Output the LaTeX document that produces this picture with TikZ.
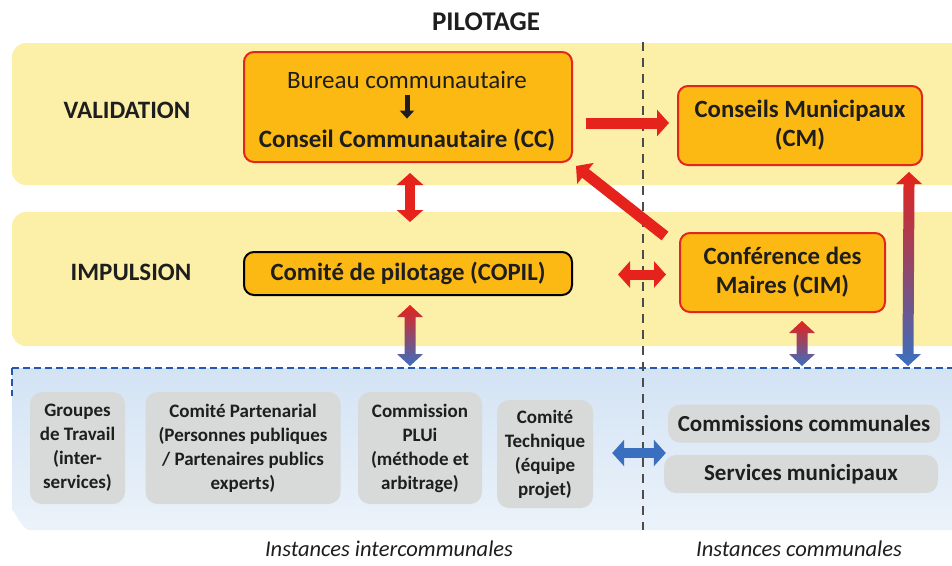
\documentclass[tikz,border=0pt]{standalone}
\usepackage{fontspec}
\setmainfont{Carlito}
\usetikzlibrary{arrows.meta,calc}
\definecolor{band}{HTML}{FCEFA8}
\definecolor{orng}{HTML}{FDB913}
\definecolor{rbord}{HTML}{E0261E}
\definecolor{ared}{HTML}{E5221B}
\definecolor{ablue}{HTML}{3A6FC0}
\definecolor{amid}{HTML}{8A3C8E}
\definecolor{bluebg}{HTML}{D3E3F4}
\definecolor{greybox}{HTML}{D7DAD9}
\definecolor{dashblue}{HTML}{2458B0}
\definecolor{txt}{HTML}{1E1E1E}
\newcommand\vgrad[2]{%
  \shade[top color=ared, middle color=amid, bottom color=ablue]
  (#1) -- ($(#1)+(13,12)$) -- ($(#1)+(5.5,12)$) -- ($(#2)+(5.5,-12)$) -- ($(#2)+(13,-12)$) -- (#2)
  -- ($(#2)+(-13,-12)$) -- ($(#2)+(-5.5,-12)$) -- ($(#1)+(-5.5,12)$) -- ($(#1)+(-13,12)$) -- cycle;}
\tikzset{
  orbox/.style={draw=rbord, line width=2pt, fill=orng, rounded corners=10pt, align=center,
     text=txt, font=\fontsize{24.8}{29}\selectfont\bfseries, inner sep=0pt},
  greyb/.style={fill=greybox, rounded corners=12pt, align=center, text=txt,
     font=\fontsize{19}{24}\selectfont\bfseries, inner sep=0pt},
  redarr/.style={draw=ared, line width=11pt, -{Triangle[width=26pt,length=12pt]}},
  reddbl/.style={draw=ared, line width=10pt, {Triangle[width=26pt,length=12pt]}-{Triangle[width=26pt,length=12pt]}},
  bluedbl/.style={draw=ablue, line width=10pt, {Triangle[width=26pt,length=12pt]}-{Triangle[width=26pt,length=12pt]}},
  lab/.style={text=txt, font=\fontsize{25}{29}\selectfont\bfseries, inner sep=0pt},
  itl/.style={text=txt, font=\fontsize{22.5}{26}\selectfont\itshape, inner sep=0pt},
}
\begin{document}
\begin{tikzpicture}[x=1pt,y=-1pt]
\useasboundingbox (0,0) rectangle (952,565);
\fill[white] (0,0) rectangle (952,565);
% bands
\fill[band, rounded corners=14pt] (12,43) rectangle (966,185);
\fill[band, rounded corners=14pt] (12,212) rectangle (966,346);
% blue area
\shade[top color=bluebg, bottom color=bluebg!45!white] (12,368) -- (960,368) -- (960,530) -- (30,530) to[out=180,in=90] (12,512) -- cycle;
\draw[dashblue, line width=2pt, dash pattern=on 7pt off 4pt] (12,368) -- (952,368);
\draw[dashblue, line width=2pt, dash pattern=on 7pt off 4pt] (12,368) -- (12,396);
% vertical dashed separator
\draw[black!70, line width=1.6pt, dash pattern=on 9pt off 7pt] (643,42) -- (643,530);

% titles
\node[lab, font=\fontsize{27}{31}\selectfont\bfseries] (pil) at (486,22) {PILOTAGE};
\node[lab] (val) at (127,110) {VALIDATION};
\node[lab] (imp) at (131,272) {IMPULSION};
\node[itl] (ii) at (389,549) {Instances intercommunales};
\node[itl] (ic) at (799,549) {Instances communales};

% orange boxes
\node[orbox, minimum width=328pt, minimum height=110pt] (CC) at (408,107) {};
\node[text=txt, font=\fontsize{25}{29}\selectfont, inner sep=0pt] (bur) at (407,80) {Bureau communautaire};
\node[text=txt, font=\fontsize{25}{29}\selectfont\bfseries, inner sep=0pt] (cons) at (407,140) {Conseil Communautaire (CC)};
\draw[txt, line width=5pt, -{Triangle[width=14pt,length=8pt]}] ($(bur.south)+(0,6)$) -- ($(cons.north)+(0,-10)$);
\node[orbox, minimum width=244pt, minimum height=79pt] (CM) at (800,125.5) {Conseils Municipaux\\(CM)};
\node[orbox, draw=black, minimum width=328pt, minimum height=43pt] (COPIL) at (408,273.5) {Comité de pilotage (COPIL)};
\node[orbox, minimum width=205pt, minimum height=79pt] (CIM) at (782.5,272.5) {Conférence des\\Maires (CIM)};

% grey boxes
\node[greyb, minimum width=95pt, minimum height=112pt] (GT) at (77.5,448) {Groupes\\de Travail\\(inter-\\services)};
\node[greyb, minimum width=195pt, minimum height=112pt] (CP) at (243,448) {Comité Partenarial\\(Personnes publiques\\/ Partenaires publics\\experts)};
\node[greyb, minimum width=124pt, minimum height=112pt] (PLU) at (420,448) {Commission\\PLUi\\(méthode et\\arbitrage)};
\node[greyb, minimum width=96pt, minimum height=108pt] (CT) at (545,454) {Comité\\Technique\\(équipe\\projet)};
\node[greyb, font=\fontsize{23}{27}\selectfont\bfseries, minimum width=272pt, minimum height=38pt] (CCo) at (804,423.5) {Commissions communales};
\node[greyb, font=\fontsize{23}{27}\selectfont\bfseries, minimum width=274pt, minimum height=38pt] (SM) at (801,474) {Services municipaux};

% coordinates on the blue line
\coordinate (b1) at (410,366);
\coordinate (b2) at (802,366);
\coordinate (b3) at (908,366);

% red arrows
\draw[redarr] ($(CC.east)+(13,16)$) -- ($(CM.west)+(-8,-2.5)$);
\draw[redarr] ($(CIM.north west)+(-14,4)$) -- ($(CC.south east)+(3,3)$);
\draw[reddbl] ($(CC.south)+(2,10)$) -- ($(COPIL.north)+(2,-29)$);
\draw[reddbl] ($(COPIL.east)+(45,1)$) -- ($(CIM.west)+(-13,2)$);
% gradient arrows
\coordinate (t1) at ($(COPIL.south)+(2,9)$);
\coordinate (t2) at ($(CIM.south)+(19.5,8)$);
\coordinate (t3) at ($(CM.south east)+(-14,6)$);
\vgrad{t1}{b1}
\vgrad{t2}{b2}
\vgrad{t3}{b3}
% blue arrow
\draw[bluedbl] ($(CT.east)+(19,-1)$) -- ($(CCo.west)+(-2,29.5)$);
\end{tikzpicture}
\end{document}
